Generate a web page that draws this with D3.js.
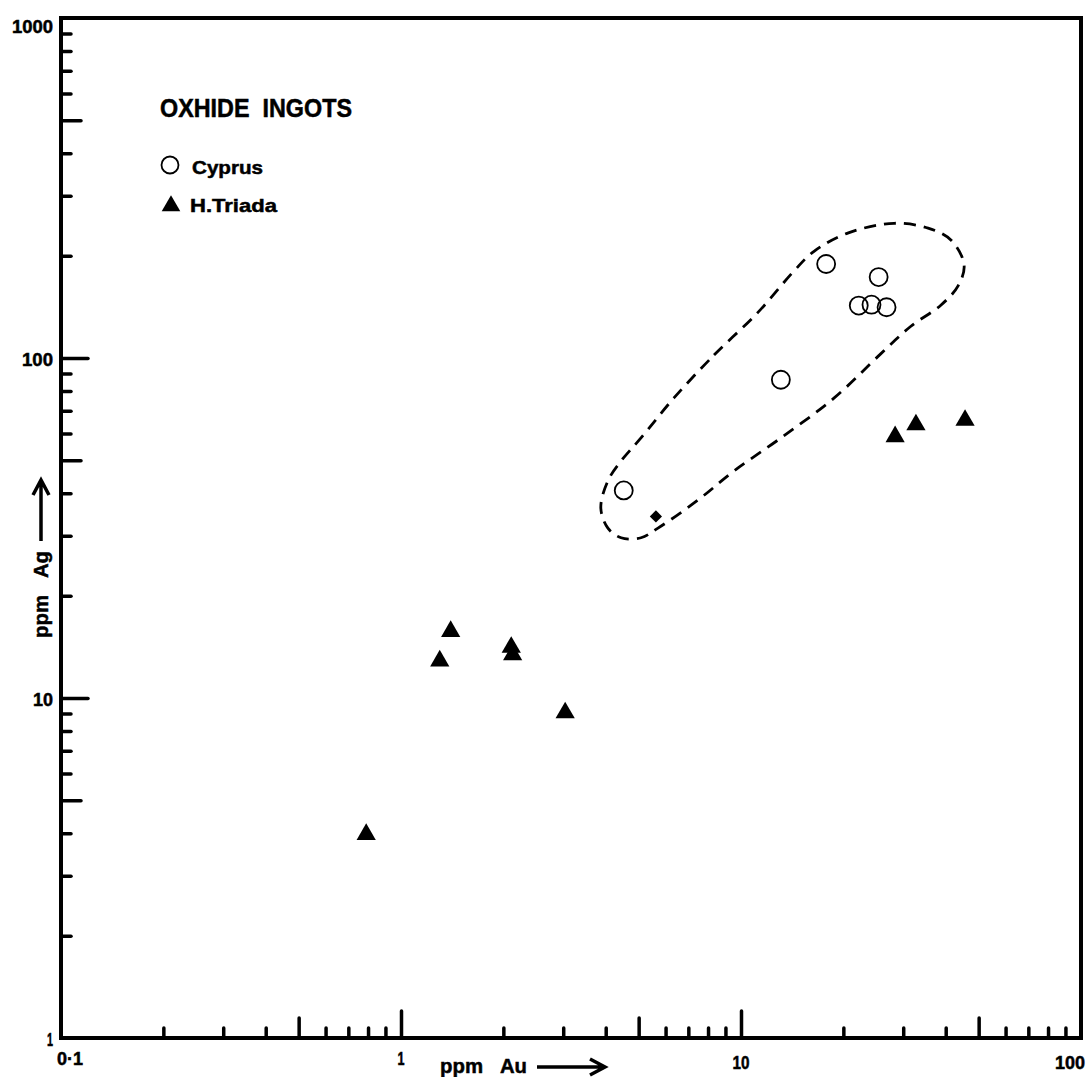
<!DOCTYPE html>
<html>
<head>
<meta charset="utf-8">
<script src="https://cdn.jsdelivr.net/npm/d3@7"></script>
<style>
  html, body { margin: 0; padding: 0; background: #fff; }
  svg { display: block; }
  text {
    font-family: "Liberation Sans Narrow", "Liberation Sans", Arial, sans-serif;
    font-weight: bold; fill: #000; stroke: #000; stroke-width: 0.5;
  }
</style>
</head>
<body>
<div id="chart"></div>
<script>
// Cyprus oxhide ingots (open circles)
const cyprusAu = [4.52, 13.1, 17.8, 25.4, 22.2, 24.2, 26.8];
const cyprusAg = [40.8, 86.3, 189, 173, 142.6, 143.5, 141];

// H.Triada oxhide ingots (filled triangles)
const triadaAu = [0.79, 1.30, 1.40, 2.11, 2.13, 3.04, 28.4, 32.7, 45.6];
const triadaAg = [3.97, 12.85, 15.7, 14.1, 13.4, 9.05, 58.7, 63.6, 65.6];

// small filled diamond inside the envelope
const otherAu = [5.62];
const otherAg = [34.2];

// dashed envelope around the Cyprus group
const envelopeAu = [6.35, 8.33, 11.2, 14.3, 16.4, 20.6, 28.2, 35.5, 41.5, 45.3, 43.5, 38.7, 31.6,
  25.8, 18.8, 13.1, 9.53, 7.47, 5.70, 5.08, 4.44, 4.06, 3.87, 4.06, 4.44, 5.08];
const envelopeAg = [76.3, 102, 136, 180, 206, 233, 249, 241, 222, 188, 163, 143, 124,
  103, 76.3, 58.2, 46.5, 38.2, 31.6, 29.6, 29.6, 31.6, 36.2, 43.5, 49.8, 58.2];

// tick labels
const xTickValues = [0.1, 1, 10, 100];
const xTickLabels = ['0·1', '1', '10', '100'];
const yTickValues = [1, 10, 100, 1000];
const yTickLabels = ['1', '10', '100', '1000'];

const width = 1088, height = 1077;
const svg = d3.select('#chart').append('svg')
  .attr('width', width)
  .attr('height', height);

const x = d3.scaleLog().domain([0.1, 100]).range([61, 1081]);
const y = d3.scaleLog().domain([1, 1000]).range([1038, 18]);

// tick length by mantissa: decade long, five medium, rest short
function tickLen(v) {
  const m = Math.round(v / Math.pow(10, Math.floor(Math.log10(v) + 1e-9)));
  if (m === 1) return 27;
  if (m === 5) return 20;
  return 10;
}

// X axis ticks (inward)
const xMinor = x.ticks().filter(d => d > 0.1 + 1e-9 && d < 100 - 1e-9);
const gx = svg.append('g')
  .attr('transform', `translate(0,${y(1)})`)
  .call(d3.axisBottom(x).tickValues(xMinor).tickFormat(''));
gx.select('.domain').remove();
gx.selectAll('.tick line')
  .attr('y2', d => -tickLen(d))
  .attr('stroke', '#000')
  .attr('stroke-width', 3.5)
  .attr('stroke-linecap', 'round');

// Y axis ticks (inward)
const yMinor = y.ticks().filter(d => d > 1 + 1e-9 && d < 1000 - 1e-9);
const gy = svg.append('g')
  .attr('transform', `translate(${x(0.1)},0)`)
  .call(d3.axisLeft(y).tickValues(yMinor).tickFormat(''));
gy.select('.domain').remove();
gy.selectAll('.tick line')
  .attr('x2', d => tickLen(d))
  .attr('stroke', '#000')
  .attr('stroke-width', 3.5)
  .attr('stroke-linecap', 'round');

// frame
svg.append('rect')
  .attr('x', x(0.1))
  .attr('y', y(1000))
  .attr('width', x(100) - x(0.1))
  .attr('height', y(1) - y(1000))
  .attr('fill', 'none')
  .attr('stroke', '#000')
  .attr('stroke-width', 4);

// tick labels
const xLabW = [26, 7, 17, 30];
svg.append('g').selectAll('text')
  .data(xTickValues)
  .join('text')
  .attr('x', (d, i) => x(d) + (i === 0 ? 9 : i === 3 ? -11 : 0))
  .attr('y', (d, i) => i < 2 ? 1065 : 1069)
  .attr('text-anchor', 'middle')
  .attr('font-size', 18)
  .attr('textLength', (d, i) => xLabW[i])
  .attr('lengthAdjust', 'spacingAndGlyphs')
  .text((d, i) => xTickLabels[i]);

const yLabW = [6, 20, 31, 41];
svg.append('g').selectAll('text')
  .data(yTickValues)
  .join('text')
  .attr('x', 53)
  .attr('y', (d, i) => i === 3 ? 33 : y(d) + 8)
  .attr('text-anchor', 'end')
  .attr('font-size', 18)
  .attr('textLength', (d, i) => yLabW[i])
  .attr('lengthAdjust', 'spacingAndGlyphs')
  .text((d, i) => yTickLabels[i]);

// axis titles with arrows
svg.append('text').attr('x', 440).attr('y', 1073).attr('font-size', 21)
  .attr('textLength', 43).attr('lengthAdjust', 'spacingAndGlyphs').text('ppm');
svg.append('text').attr('x', 500).attr('y', 1073).attr('font-size', 21)
  .attr('textLength', 27).attr('lengthAdjust', 'spacingAndGlyphs').text('Au');
svg.append('path')
  .attr('d', 'M537,1067 H604 M590,1059 L605,1067 L590,1075')
  .attr('fill', 'none').attr('stroke', '#000').attr('stroke-width', 3.5);

const yt = svg.append('g').attr('transform', 'translate(48,638) rotate(-90)');
yt.append('text').attr('x', 0).attr('y', 0).attr('font-size', 21)
  .attr('textLength', 43).attr('lengthAdjust', 'spacingAndGlyphs').text('ppm');
yt.append('text').attr('x', 60).attr('y', 0).attr('font-size', 21)
  .attr('textLength', 27).attr('lengthAdjust', 'spacingAndGlyphs').text('Ag');
svg.append('path')
  .attr('d', 'M41,541 V481 M33,495 L41,480 L49,495')
  .attr('fill', 'none').attr('stroke', '#000').attr('stroke-width', 3.5);

// dashed envelope
const env = envelopeAu.map((d, i) => [d, envelopeAg[i]]);
svg.append('path')
  .datum(env)
  .attr('d', d3.line().x(d => x(d[0])).y(d => y(d[1])).curve(d3.curveCatmullRomClosed.alpha(0.5)))
  .attr('fill', 'none')
  .attr('stroke', '#000')
  .attr('stroke-width', 2.8)
  .attr('stroke-dasharray', '12,8');

// Cyprus circles
svg.append('g').selectAll('circle')
  .data(cyprusAu.map((d, i) => [d, cyprusAg[i]]))
  .join('circle')
  .attr('cx', d => x(d[0]))
  .attr('cy', d => y(d[1]))
  .attr('r', 9)
  .attr('fill', 'none')
  .attr('stroke', '#000')
  .attr('stroke-width', 1.8);

// H.Triada triangles
const tri = d3.symbol().type(d3.symbolTriangle).size(160);
svg.append('g').selectAll('path')
  .data(triadaAu.map((d, i) => [d, triadaAg[i]]))
  .join('path')
  .attr('transform', d => `translate(${x(d[0])},${y(d[1])})`)
  .attr('d', tri)
  .attr('fill', '#000');

// diamond
svg.append('g').selectAll('path')
  .data(otherAu.map((d, i) => [d, otherAg[i]]))
  .join('path')
  .attr('transform', d => `translate(${x(d[0])},${y(d[1])}) rotate(45)`)
  .attr('d', d3.symbol().type(d3.symbolSquare).size(75))
  .attr('fill', '#000');

// legend
svg.append('text').attr('x', 160).attr('y', 117).attr('font-size', 25)
  .attr('textLength', 192).attr('lengthAdjust', 'spacingAndGlyphs')
  .attr('xml:space', 'preserve').text('OXHIDE  INGOTS');
svg.append('circle').attr('cx', 170).attr('cy', 165).attr('r', 8.5)
  .attr('fill', 'none').attr('stroke', '#000').attr('stroke-width', 1.8);
svg.append('text').attr('x', 192).attr('y', 174).attr('font-size', 19)
  .attr('textLength', 71).attr('lengthAdjust', 'spacingAndGlyphs').text('Cyprus');
svg.append('path')
  .attr('transform', 'translate(171,206)')
  .attr('d', d3.symbol().type(d3.symbolTriangle).size(150))
  .attr('fill', '#000');
svg.append('text').attr('x', 190).attr('y', 212).attr('font-size', 19)
  .attr('textLength', 87).attr('lengthAdjust', 'spacingAndGlyphs').text('H.Triada');
</script>
</body>
</html>
